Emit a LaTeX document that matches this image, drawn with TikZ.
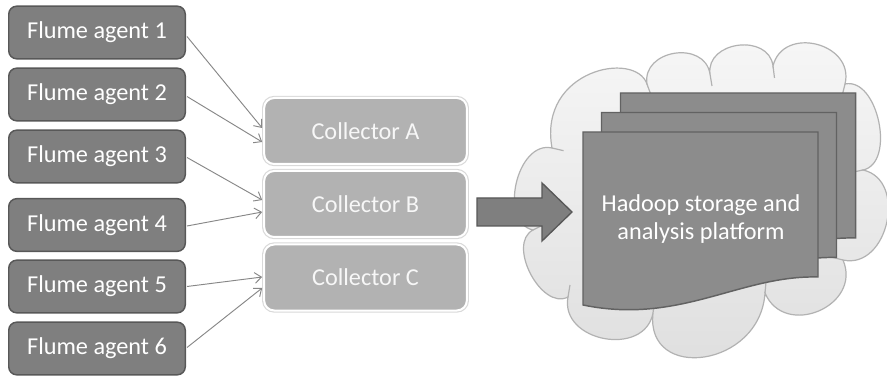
\documentclass[tikz,border=0pt]{standalone}
\usepackage{fontspec}
\setmainfont{Carlito}
\usetikzlibrary{arrows.meta,calc}
\definecolor{agentfill}{RGB}{127,127,127}
\definecolor{agentdraw}{RGB}{88,88,88}
\definecolor{collfill}{RGB}{178,178,178}
\definecolor{docfill}{RGB}{140,140,140}
\definecolor{docdraw}{RGB}{98,98,98}
\definecolor{linkcol}{RGB}{135,135,135}
\definecolor{cloudline}{RGB}{178,178,178}
\begin{document}
\begin{tikzpicture}[x=0.75pt,y=-0.75pt,
  lbl/.style={font=\fontsize{18.2}{21}\selectfont},
  agent/.style={lbl,draw=agentdraw,fill=agentfill,line width=1.1pt,rounded corners=6pt,
    minimum width=132.4pt,minimum height=39.5pt,text=white,inner sep=0pt},
  coll/.style={lbl,fill=collfill,draw=white,line width=1.5pt,rounded corners=7.5pt,
    minimum width=152pt,minimum height=49.5pt,text=white!97!black,inner sep=0pt,
    preaction={draw=black!15,line width=3.2pt}},
  link/.style={draw=linkcol,line width=0.7pt,-{Straight Barb[length=5pt,width=8pt]}},
  docpage/.style={fill=docfill,draw=docdraw,line width=1.1pt},
  bigarrow/.style={fill=agentfill,draw=agentdraw,line width=1pt,line join=miter},
  cloudedge/.style={draw=cloudline,line width=0.9pt}
]
\useasboundingbox[fill=white] (0,0) rectangle (887,377);

% cloud
\path[cloudedge,top color=white!97!black,bottom color=black!13]
  (552,148) .. controls (538,70) and (635,50) .. (647,84)
  .. controls (641.6,49.7) and (704.6,39.7) .. (710,74)
  .. controls (705.8,41) and (768.8,33) .. (773,66)
  .. controls (783,25) and (855,43) .. (845,84)
  .. controls (878,77) and (896,163) .. (863,170)
  .. controls (908,180) and (888,270) .. (843,260)
  .. controls (862.5,306) and (784.5,339) .. (765,293)
  .. controls (760,368) and (645,382) .. (653,313)
  .. controls (644.6,357.7) and (559.6,341.7) .. (568,297)
  .. controls (541.4,310.9) and (506.4,243.9) .. (533,230)
  .. controls (498,222) and (517,140) .. (552,148) -- cycle;
% small inner arcs at the cloud's notches
\foreach \ax/\ay/\bx/\by in {647/84/651/95, 710/74/712/86, 773/66/774.5/78,
    845/84/842/96, 863/170/851/172.5, 843/260/831/257, 765/293/766/282,
    653/313/654.4/301, 568/297/570/285, 533/230/544/224.5, 552/148/563.6/150.7}{
  \draw[cloudedge] (\ax,\ay) -- (\bx,\by);
}

% documents
\foreach \dx/\dy in {37.5/-39, 18.5/-19.5, 0/0}{
  \path[docpage,shift={(\dx,\dy)}] (583,132) -- (818,132) -- (818,277)
    .. controls (740,275) and (680,325) .. (583,305) -- cycle;
}
\node[lbl,text=white,align=center] (hadoop) at (701,219) {Hadoop storage and\\analysis platform};

% big arrow
\path[bigarrow] (477,198) -- (542,198) -- (542,183) -- (572,212) -- (542,241)
  -- (542,226) -- (477,226) -- cycle;

% collectors
\node[coll] (cA) at (365.5,131) {Collector A};
\node[coll] (cB) at (365.5,204) {Collector B};
\node[coll] (cC) at (365.5,277.5) {Collector C};

% agents
\node[agent] (a1) at (97,32.5) {Flume agent 1};
\node[agent] (a2) at (97,94.5) {Flume agent 2};
\node[agent] (a3) at (97,156.5) {Flume agent 3};
\node[agent] (a4) at (97,225) {Flume agent 4};
\node[agent] (a5) at (97,286.5) {Flume agent 5};
\node[agent] (a6) at (97,348.5) {Flume agent 6};

% links
\draw[link] ($(a1.east)+(1,4)$) -- ($(cA.west)+(-1,-3)$);
\draw[link] ($(a2.east)+(1,2)$) -- ($(cA.west)+(-1,11)$);
\draw[link] ($(a3.east)+(1,1)$) -- ($(cB.west)+(-1,-4)$);
\draw[link] ($(a4.east)+(1,1)$) -- ($(cB.west)+(-1,8)$);
\draw[link] ($(a5.east)+(1,0)$) -- ($(cC.west)+(-1,-0.5)$);
\draw[link] ($(a6.east)+(1,-1)$) -- ($(cC.west)+(-1,10.5)$);
\end{tikzpicture}
\end{document}
